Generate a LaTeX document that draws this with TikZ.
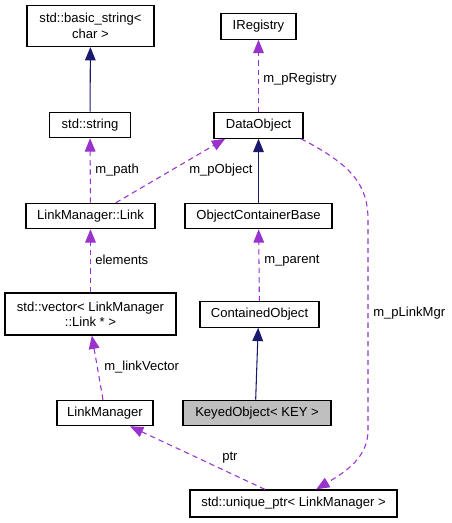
\documentclass[tikz,border=0pt]{standalone}
\usepackage{fontspec}
\setmainfont{Liberation Sans}
\usetikzlibrary{arrows.meta}

\definecolor{memb}{HTML}{9A32CD}
\definecolor{inher}{HTML}{191970}
\definecolor{curcls}{HTML}{BFBFBF}

\tikzset{
  cls/.style={draw=black, line width=0.9pt, inner sep=0pt, align=center, minimum height=19pt, font=\fontsize{9.8}{11.5}\selectfont},
  usage/.style={color=memb, line width=0.8pt, dash pattern=on 4pt off 3pt, -{Triangle[length=10pt,width=8pt]}},
  inherit/.style={color=inher, line width=0.8pt, -{Triangle[length=10pt,width=8pt]}},
  lbl/.style={anchor=west, inner sep=0pt, font=\fontsize{9.8}{11.5}\selectfont}
}

\begin{document}
\begin{tikzpicture}[x=0.75pt,y=0.75pt,yscale=-1,xscale=1]
  \useasboundingbox (0,0) rectangle (451,523);

  %Classes
  \node[cls, minimum width=95.25pt, minimum height=30.75pt] (bstr) at (90.5,26) {std::basic\_string<\\char >};
  \node[cls, minimum width=60.75pt] (str) at (90,125) {std::string};
  \node[cls, minimum width=96.75pt] (link) at (90.5,216) {LinkManager::Link};
  \node[cls, minimum width=128.25pt, minimum height=31.5pt] (vec) at (90.5,314) {std::vector< LinkManager\\::Link * >};
  \node[cls, minimum width=72pt] (lmgr) at (105,413) {LinkManager};
  \node[cls, minimum width=56.25pt] (ireg) at (258.5,26.5) {IRegistry};
  \node[cls, minimum width=66.75pt] (dobj) at (258.5,125.5) {DataObject};
  \node[cls, minimum width=110.25pt] (ocb) at (258.5,216) {ObjectContainerBase};
  \node[cls, minimum width=89.25pt] (cobj) at (259.5,314.5) {ContainedObject};
  \node[cls, minimum width=111pt, fill=curcls] (kobj) at (257,413) {KeyedObject< KEY >};
  \node[cls, minimum width=155.25pt, minimum height=20.25pt] (uptr) at (293.5,503.5) {std::unique\_ptr< LinkManager >};

  %Inheritance
  \draw[inherit] (str) -- (bstr);
  \draw[inherit] (ocb) -- (dobj);
  \draw[inherit] ([xshift=-1pt]kobj.north) -- ([xshift=-1pt]cobj.south);

  %Members
  \draw[usage] (link) -- (str);
  \draw[usage] ([xshift=19pt]link.north) -- ([xshift=-25pt]dobj.south);
  \draw[usage] (dobj) -- (ireg);
  \draw[usage] (cobj) -- (ocb);
  \draw[usage] (vec) -- (link);
  \draw[usage] ([xshift=-1.5pt]lmgr.north) -- ([xshift=1pt]vec.south);
  \draw[usage] ([xshift=-21.4pt]uptr.north) -- ([xshift=18.75pt]lmgr.south);
  \draw[usage] ([xshift=-2pt]dobj.south east) .. controls (352,165) and (368,185) .. (368,220) -- (368,430) .. controls (368,458) and (345,472) .. ([xshift=17pt]uptr.north);

  % Text Node
  \node[lbl] (lpath) at (95,170) {m\_path};
  \node[lbl] (lpobj) at (189,170) {m\_pObject};
  \node[lbl] (lpreg) at (263,79) {m\_pRegistry};
  \node[lbl] (lpar) at (264,261) {m\_parent};
  \node[lbl] (lelem) at (95,260) {elements};
  \node[lbl] (llvec) at (104,367) {m\_linkVector};
  \node[lbl] (lptr) at (222,458) {ptr};
  \node[lbl] (lplm) at (373,313) {m\_pLinkMgr};
\end{tikzpicture}
\end{document}
